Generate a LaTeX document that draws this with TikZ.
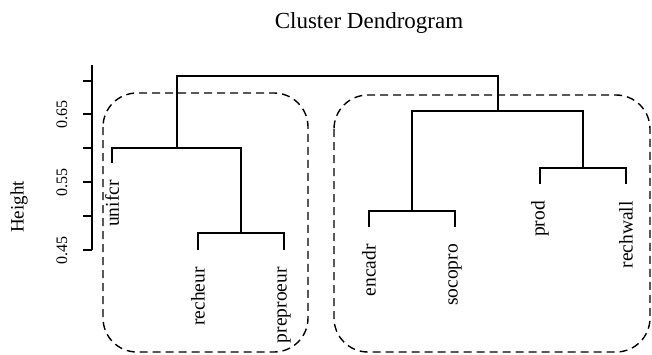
\documentclass[tikz,border=0pt]{standalone}
\usepackage{fontspec}
\setmainfont{Liberation Serif}
\begin{document}
\begin{tikzpicture}[x=1pt,y=-1pt,
  dend/.style={line width=1.4pt,line join=miter},
  grpbox/.style={line width=1.4pt,dash pattern=on 8pt off 5pt,rounded corners=34pt},
  leaflab/.style={rotate=90,anchor=east,inner sep=0pt,font=\fontsize{19.5}{20}\selectfont},
  ticklab/.style={rotate=90,inner sep=0pt,font=\fontsize{16}{17}\selectfont},
  tick/.style={line width=1.4pt}]
\useasboundingbox (0,0) rectangle (652,354);
% title and axis label
\node[font=\fontsize{23}{24}\selectfont] (title) at (369,23) {Cluster Dendrogram};
\node[rotate=90,font=\fontsize{19}{20}\selectfont] (ylab) at (19,207) {Height};
% axis
\coordinate (axtop) at (92,65);
\coordinate (axbot) at (92,250);
\draw[tick] (axtop) -- (axbot);
\foreach \yy in {81,114,148,182,216,250} \draw[tick] (83,\yy) -- (92,\yy);
\node[ticklab] (t65) at (62,114) {0.65};
\node[ticklab] (t55) at (62,182) {0.55};
\node[ticklab] (t45) at (62,250) {0.45};
% leaves
\coordinate (unifcr) at (112,163);
\coordinate (recheur) at (198,250);
\coordinate (preproeur) at (284,250);
\coordinate (encadr) at (369,227);
\coordinate (socopro) at (455,227);
\coordinate (prod) at (540,184);
\coordinate (rechwall) at (626,184);
% merges
\coordinate (m1) at (241,233);
\coordinate (m2) at (177,148);
\coordinate (m3) at (412,211);
\coordinate (m4) at (583,168);
\coordinate (m5) at (498,111);
\coordinate (m6) at (337.5,76);
\draw[dend] (recheur) |- (m1) -| (preproeur);
\draw[dend] (unifcr) |- (m2) -| (m1);
\draw[dend] (encadr) |- (m3) -| (socopro);
\draw[dend] (prod) |- (m4) -| (rechwall);
\draw[dend] (m3) |- (m5) -| (m4);
\draw[dend] (m2) |- (m6) -| (m5);
% labels
\foreach \l in {unifcr,recheur,preproeur,encadr,socopro,prod,rechwall}
  \node[leaflab] (lab-\l) at ([yshift=-17pt]\l) {\l};
% group boxes
\draw[grpbox] (103,93) rectangle (308,352);
\draw[grpbox] (334,95) rectangle (650,352);
\end{tikzpicture}
\end{document}
